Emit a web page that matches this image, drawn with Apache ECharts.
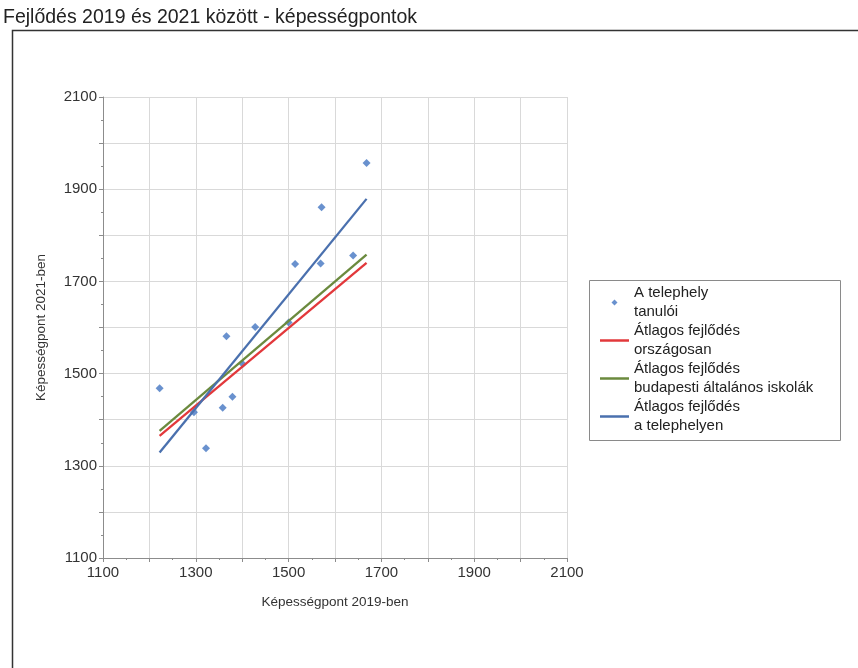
<!DOCTYPE html>
<html>
<head>
<meta charset="utf-8">
<script src="https://cdn.jsdelivr.net/npm/echarts@6/dist/echarts.min.js"></script>
<style>
html,body{margin:0;padding:0;background:#fff;}
#chart{width:858px;height:668px;}
</style>
</head>
<body>
<div id="chart"></div>
<script>
// Data
var titleText = 'Fejlődés 2019 és 2021 között - képességpontok';
var xAxisName = 'Képességpont 2019-ben';
var yAxisName = 'Képességpont 2021-ben';
var axisMin = 1100, axisMax = 2100, gridStep = 100, labelStep = 200;

var seriesNames = [
  'A telephely\ntanulói',
  'Átlagos fejlődés\nországosan',
  'Átlagos fejlődés\nbudapesti általános iskolák',
  'Átlagos fejlődés\na telephelyen'
];

// Students: score 2019 (x) and score 2021 (y)
var students2019 = [1222, 1296, 1322, 1358, 1366, 1379, 1401, 1428, 1500, 1514, 1571, 1569, 1639, 1668];
var students2021 = [1468, 1416, 1338, 1426, 1581, 1450, 1521, 1601, 1611, 1738, 1861, 1739, 1756, 1957];

// Trend lines: start and end points
var lineX = [1222, 1668];
var nationalY = [1365, 1740];
var budapestY = [1376, 1758];
var siteY = [1329, 1879];

var colors = ['#4475C2', '#E2383B', '#6B8A3E', '#4A70AE'];

function pairs(xs, ys) {
  var out = [];
  for (var i = 0; i < xs.length; i++) out.push([xs[i], ys[i]]);
  return out;
}

var font = 'Liberation Sans, Arial, sans-serif';

function axisCommon(isX) {
  return {
    type: 'value',
    min: axisMin,
    max: axisMax,
    interval: gridStep,
    name: isX ? xAxisName : yAxisName,
    nameLocation: 'middle',
    nameGap: isX ? 37 : 55,
    nameTextStyle: {fontFamily: font, fontSize: 13.5, color: '#333'},
    axisLine: {show: true, onZero: false, lineStyle: {color: '#8c8c8c', width: 1}},
    axisTick: {show: true, length: 4, lineStyle: {color: '#8c8c8c'}},
    minorTick: {show: true, splitNumber: 2, length: 2, lineStyle: {color: '#8c8c8c'}},
    axisLabel: {
      fontFamily: font, fontSize: 15, color: '#333', margin: isX ? 7 : 6,
      formatter: function (v) { return ((v - axisMin) % labelStep === 0) ? String(v) : ''; }
    },
    splitLine: {show: true, lineStyle: {color: '#d9d9d9', width: 1}}
  };
}

var lineIcon = 'path://M0,0L29,0L29,2.5L0,2.5Z';
var dotIcon = 'path://M3,0L6,3L3,6L0,3Z';

var chart = echarts.init(document.getElementById('chart'), null, {renderer: 'canvas'});
chart.setOption({
  animation: false,
  backgroundColor: '#fff',
  title: {
    text: titleText, left: 3, top: 8, padding: 0,
    textStyle: {fontFamily: font, fontSize: 19.5, fontWeight: 'normal', color: '#222'}
  },
  grid: {left: 103, top: 97, width: 464, height: 461, containLabel: false},
  xAxis: axisCommon(true),
  yAxis: axisCommon(false),
  legend: {
    orient: 'vertical', left: 600, top: 284, padding: 0,
    itemWidth: 29, itemHeight: 6, itemGap: 1,
    symbolKeepAspect: true,
    textStyle: {fontFamily: font, fontSize: 15, color: '#222', lineHeight: 18.5},
    data: [
      {name: seriesNames[0], icon: dotIcon},
      {name: seriesNames[1], icon: lineIcon},
      {name: seriesNames[2], icon: lineIcon},
      {name: seriesNames[3], icon: lineIcon}
    ]
  },
  graphic: [
    {type: 'polyline', shape: {points: [[12.5, 668], [12.5, 30.5], [858, 30.5]]},
     style: {stroke: '#333', lineWidth: 1.5, fill: null}, silent: true},
    {type: 'rect', shape: {x: 589.5, y: 280.5, width: 251, height: 160},
     style: {stroke: '#8a8a8a', lineWidth: 1, fill: null}, silent: true}
  ],
  series: [
    {
      name: seriesNames[0], type: 'scatter', symbol: 'diamond', symbolSize: 8,
      itemStyle: {color: colors[0]}, z: 3,
      data: pairs(students2019, students2021)
    },
    {
      name: seriesNames[1], type: 'line', symbol: 'none', z: 4,
      lineStyle: {color: colors[1], width: 2.3}, itemStyle: {color: colors[1]},
      data: pairs(lineX, nationalY)
    },
    {
      name: seriesNames[2], type: 'line', symbol: 'none', z: 4,
      lineStyle: {color: colors[2], width: 2.3}, itemStyle: {color: colors[2]},
      data: pairs(lineX, budapestY)
    },
    {
      name: seriesNames[3], type: 'line', symbol: 'none', z: 4,
      lineStyle: {color: colors[3], width: 2.3}, itemStyle: {color: colors[3]},
      data: pairs(lineX, siteY)
    }
  ]
});
</script>
</body>
</html>
